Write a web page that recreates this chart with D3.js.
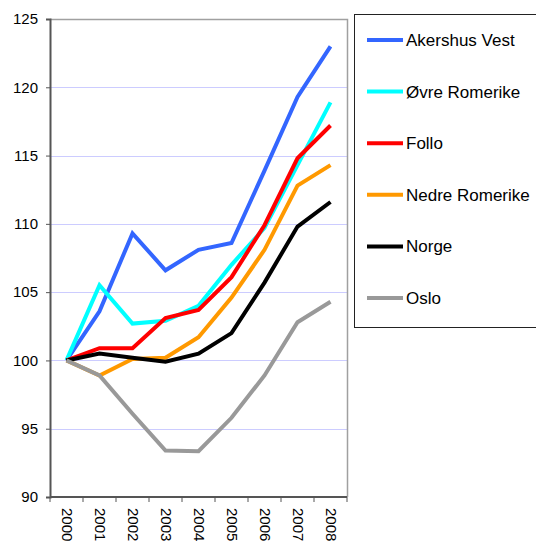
<!DOCTYPE html>
<html>
<head>
<meta charset="utf-8">
<script src="https://cdn.jsdelivr.net/npm/d3@7"></script>
<style>
  body { margin: 0; background: #fff; }
  text { font-family: "Liberation Sans", Arial, sans-serif; }
</style>
</head>
<body>
<svg width="536" height="543"></svg>
<script>
var svg = d3.select('svg');

// data
var years = ['2000', '2001', '2002', '2003', '2004', '2005', '2006', '2007', '2008'];
var seriesNames = ['Akershus Vest', 'Øvre Romerike', 'Follo', 'Nedre Romerike', 'Norge', 'Oslo'];
var akershusVest = [100, 103.6, 109.3, 106.6, 108.1, 108.6, 113.9, 119.3, 123.0];
var ovreRomerike = [100, 105.5, 102.7, 102.9, 104.0, 107.0, 109.7, 114.3, 118.9];
var follo = [100, 100.9, 100.9, 103.1, 103.7, 106.1, 109.9, 114.8, 117.2];
var nedreRomerike = [100, 98.9, 100.1, 100.2, 101.7, 104.6, 108.1, 112.8, 114.3];
var norge = [100, 100.5, 100.2, 99.9, 100.5, 102.0, 105.7, 109.8, 111.6];
var oslo = [100, 98.9, 96.1, 93.4, 93.35, 95.8, 98.9, 102.8, 104.3];
var yTicks = [90, 95, 100, 105, 110, 115, 120, 125];

var seriesValues = [akershusVest, ovreRomerike, follo, nedreRomerike, norge, oslo];
var colors = ['#3366FF', '#00FFFF', '#FF0000', '#FF9900', '#000000', '#999999'];

// plot area (note: "top" is taken by window.top)
var plotLeft = 50, plotRight = 347, plotTop = 19, plotBottom = 497;

var x = d3.scaleBand()
  .domain(years)
  .range([plotLeft, plotRight]);

var y = d3.scaleLinear()
  .domain([90, 125])
  .range([plotBottom, plotTop]);

// gridlines
svg.append('g')
  .selectAll('line')
  .data(yTicks.filter(d => d > 90 && d < 125))
  .join('line')
    .attr('x1', plotLeft)
    .attr('x2', plotRight)
    .attr('y1', d => Math.round(y(d)) + 0.5)
    .attr('y2', d => Math.round(y(d)) + 0.5)
    .attr('stroke', '#ccccff')
    .attr('stroke-width', 1);

// plot frame top and right
svg.append('path')
  .attr('d', 'M' + plotLeft + ',' + (plotTop + 0.5) + 'H' + (plotRight + 0.5) + 'V' + plotBottom)
  .attr('fill', 'none')
  .attr('stroke', '#a0a0a0')
  .attr('stroke-width', 1.5);

// lines
var line = d3.line()
  .x((d, i) => x(years[i]) + x.bandwidth() / 2)
  .y(d => y(d));

svg.append('g')
  .selectAll('path')
  .data(seriesValues)
  .join('path')
    .attr('d', line)
    .attr('fill', 'none')
    .attr('stroke', (d, i) => colors[i])
    .attr('stroke-width', 4)
    .attr('stroke-linejoin', 'miter');

// y axis
var yAxis = svg.append('g')
  .attr('transform', 'translate(' + plotLeft + ',0)')
  .call(d3.axisLeft(y).tickValues(yTicks).tickSize(4).tickPadding(8));
yAxis.selectAll('text').attr('font-size', 15).attr('fill', '#000').attr('font-family', '"Liberation Sans", Arial, sans-serif');
yAxis.select('.domain').attr('stroke', '#555').attr('stroke-width', 2);
yAxis.selectAll('.tick line').attr('stroke', '#555');

// x axis: ticks at band boundaries
var xAxisG = svg.append('g')
  .attr('transform', 'translate(0,' + plotBottom + ')');
xAxisG.append('line')
  .attr('x1', plotLeft).attr('x2', plotRight)
  .attr('stroke', '#555').attr('stroke-width', 2);
xAxisG.selectAll('.tk')
  .data(years.concat(['end']))
  .join('line')
    .attr('class', 'tk')
    .attr('x1', (d, i) => plotLeft + i * x.step())
    .attr('x2', (d, i) => plotLeft + i * x.step())
    .attr('y1', 0).attr('y2', 5)
    .attr('stroke', '#555').attr('stroke-width', 1);
xAxisG.selectAll('text')
  .data(years)
  .join('text')
    .attr('transform', d => 'translate(' + (x(d) + x.bandwidth() / 2 - 5) + ',11)rotate(90)')
    .attr('font-size', 15)
    .attr('fill', '#000')
    .text(d => d);

// legend
var legend = svg.append('g');
legend.append('rect')
  .attr('x', 354.5).attr('y', 14.5)
  .attr('width', 200).attr('height', 313)
  .attr('fill', '#fff')
  .attr('stroke', '#222')
  .attr('stroke-width', 1);

var rows = legend.selectAll('.row')
  .data(seriesNames)
  .join('g')
    .attr('class', 'row')
    .attr('transform', (d, i) => 'translate(0,' + (40 + i * 51.6) + ')');
rows.append('line')
  .attr('x1', 367).attr('x2', 403)
  .attr('stroke', (d, i) => colors[i])
  .attr('stroke-width', 4);
rows.append('text')
  .attr('x', 406)
  .attr('dy', '0.35em')
  .attr('font-size', 17)
  .attr('fill', '#000')
  .text(d => d);
</script>
</body>
</html>
